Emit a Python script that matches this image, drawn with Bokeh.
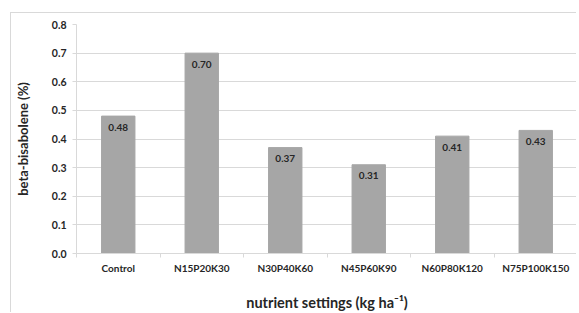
from bokeh.plotting import figure
from bokeh.models import FixedTicker, NumeralTickFormatter, ColumnDataSource, Range1d
from bokeh.core.properties import value
from bokeh.embed import file_html
from bokeh.resources import INLINE

categories = ["Control", "N15P20K30", "N30P40K60", "N45P60K90", "N60P80K120", "N75P100K150"]
values = [0.48, 0.70, 0.37, 0.31, 0.41, 0.43]
labels = ["0.48", "0.70", "0.37", "0.31", "0.41", "0.43"]
y_ticks = [0.0, 0.1, 0.2, 0.3, 0.4, 0.5, 0.6, 0.7, 0.8]

xs = [i + 0.5 for i in range(len(categories))]
src = ColumnDataSource(dict(x=xs, top=values, label=labels))

FONT = "Lato"

p = figure(width=566, height=300, output_backend="svg", toolbar_location=None,
           x_range=Range1d(0, len(categories)), y_range=Range1d(0, 0.8),
           min_border_left=65, min_border_right=0, min_border_top=11, min_border_bottom=54)
p.styles = {"margin-left": "10px", "margin-top": "12px",
            "border-left": "1px solid #d9d9d9", "border-top": "1px solid #d9d9d9"}

p.vbar(x="x", top="top", width=0.4, source=src, fill_color="#a6a6a6", line_color="#a6a6a6")
p.text(x="x", y="top", text="label", source=src, text_align="center", text_baseline="middle",
       y_offset=11, text_font=value(FONT), text_font_style="bold", text_font_size="10px",
       text_color="#262626")

p.outline_line_color = None
p.background_fill_color = "white"
p.border_fill_color = "white"

# y axis
p.yaxis.ticker = FixedTicker(ticks=y_ticks)
p.yaxis.formatter = NumeralTickFormatter(format="0.0")
p.yaxis.axis_line_color = "#d9d9d9"
p.yaxis.major_tick_line_color = "#d9d9d9"
p.yaxis.major_tick_out = 4
p.yaxis.major_tick_in = 0
p.yaxis.minor_tick_line_color = None
p.yaxis.major_label_text_font = FONT
p.yaxis.major_label_text_font_style = "bold"
p.yaxis.major_label_text_font_size = "10.5px"
p.yaxis.major_label_text_color = "#262626"
p.yaxis.major_label_standoff = 6
p.yaxis.axis_label = "beta-bisabolene (%)"
p.yaxis.axis_label_text_font = FONT
p.yaxis.axis_label_text_font_style = "bold"
p.yaxis.axis_label_text_font_size = "13px"
p.yaxis.axis_label_text_color = "#262626"
p.yaxis.axis_label_standoff = 18

# x axis
p.xaxis.ticker = FixedTicker(ticks=xs, minor_ticks=list(range(len(categories) + 1)))
p.xaxis.major_label_overrides = {x: c for x, c in zip(xs, categories)}
p.xaxis.axis_line_color = "#d9d9d9"
p.xaxis.major_tick_line_color = None
p.xaxis.major_tick_out = 0
p.xaxis.major_tick_in = 0
p.xaxis.minor_tick_line_color = "#d9d9d9"
p.xaxis.minor_tick_out = 4
p.xaxis.minor_tick_in = 0
p.xaxis.major_label_text_font = FONT
p.xaxis.major_label_text_font_style = "bold"
p.xaxis.major_label_text_font_size = "10px"
p.xaxis.major_label_text_color = "#262626"
p.xaxis.major_label_standoff = 4
p.xaxis.axis_label = "nutrient settings (kg ha\u207b\u00b9)"
p.xaxis.axis_label_text_font = FONT
p.xaxis.axis_label_text_font_style = "bold"
p.xaxis.axis_label_text_font_size = "14.5px"
p.xaxis.axis_label_text_color = "#262626"
p.xaxis.axis_label_standoff = 17

p.xgrid.grid_line_color = None
p.ygrid.ticker = FixedTicker(ticks=y_ticks)
p.ygrid.grid_line_color = "#d9d9d9"

open("out.html", "w").write(file_html(p, INLINE))
